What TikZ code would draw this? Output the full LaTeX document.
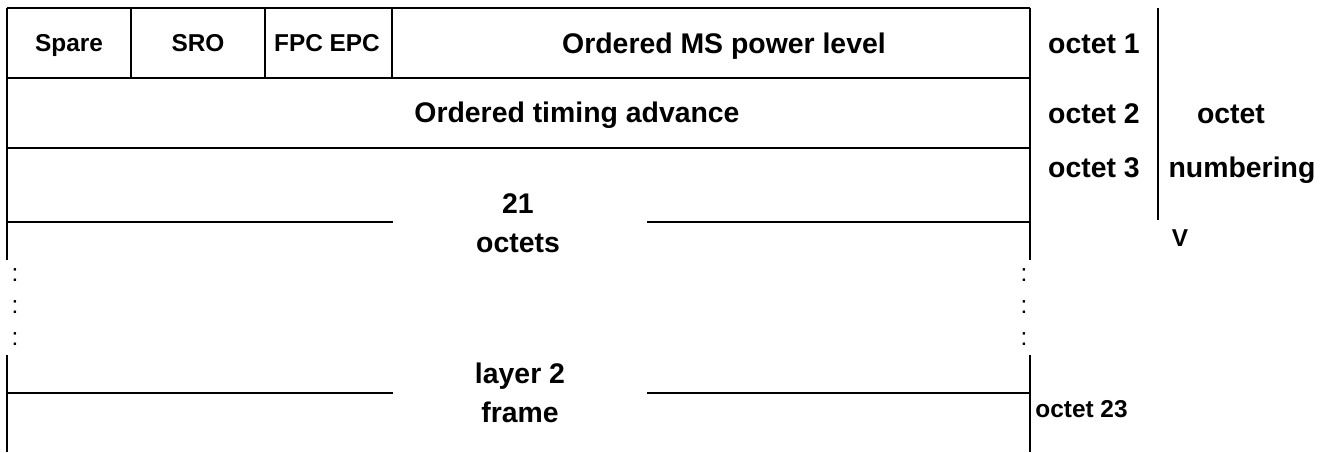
\documentclass[tikz,border=0pt]{standalone}
\usepackage{fontspec}
\setmainfont{Liberation Sans}
\begin{document}
\begin{tikzpicture}[
    x=0.5pt, y=-0.5pt,
    big/.style={font=\fontsize{14.2}{17}\selectfont\bfseries, inner sep=0pt, anchor=base},
    small/.style={font=\fontsize{12.2}{15}\selectfont\bfseries, inner sep=0pt, anchor=base},
    dots/.style={font=\fontsize{12.2}{15}\selectfont, inner sep=0pt, anchor=base},
    frame/.style={line width=1.45pt}
]
    \useasboundingbox (0,0) rectangle (1335,452);

    % octet 1 and 2
    \draw[frame] (7,8) -- (1030,8);
    \draw[frame] (7,78) -- (1030,78);
    \draw[frame] (7,148) -- (1030,148);
    \draw[frame] (131,8) -- (131,78);
    \draw[frame] (265,8) -- (265,78);
    \draw[frame] (392,8) -- (392,78);
    \draw[frame] (7,8) -- (7,260);
    \draw[frame] (1030,8) -- (1030,260);
    \draw[frame] (7,222) -- (393,222);
    \draw[frame] (647,222) -- (1030,222);

    % lower part
    \draw[frame] (7,355) -- (7,452);
    \draw[frame] (1030,355) -- (1030,452);
    \draw[frame] (7,393) -- (393,393);
    \draw[frame] (647,393) -- (1030,393);

    % numbering bar
    \draw[frame] (1158,8) -- (1158,220);

    \node[small] (spare) at (69,51) {Spare};
    \node[small] (sro) at (198,51) {SRO};
    \node[small] (fpc) at (327,51) {FPC EPC};
    \node[big] (power) at (724,53) {Ordered MS power level};
    \node[big] (timing) at (577,122) {Ordered timing advance};
    \node[big] (num) at (518,213) {21};
    \node[big] (octets) at (518,252) {octets};
    \node[big] (layer) at (520,383) {layer 2};
    \node[big] (frm) at (520,422) {frame};

    \node[big] (oct1) at (1094,53) {octet 1};
    \node[big] (oct2) at (1094,123) {octet 2};
    \node[big] (oct3) at (1094,177) {octet 3};
    \node[big] (octet) at (1231,123) {octet};
    \node[big] (numbering) at (1242,177) {numbering};
    \node[small] (down) at (1180,246) {V};
    \node[small, anchor=base west] (oct23) at (1035,417) {octet 23};

    \foreach \y in {281,313,345} {
        \node[dots] at (15,\y) {:};
        \node[dots] at (1024,\y) {:};
    }
\end{tikzpicture}
\end{document}
